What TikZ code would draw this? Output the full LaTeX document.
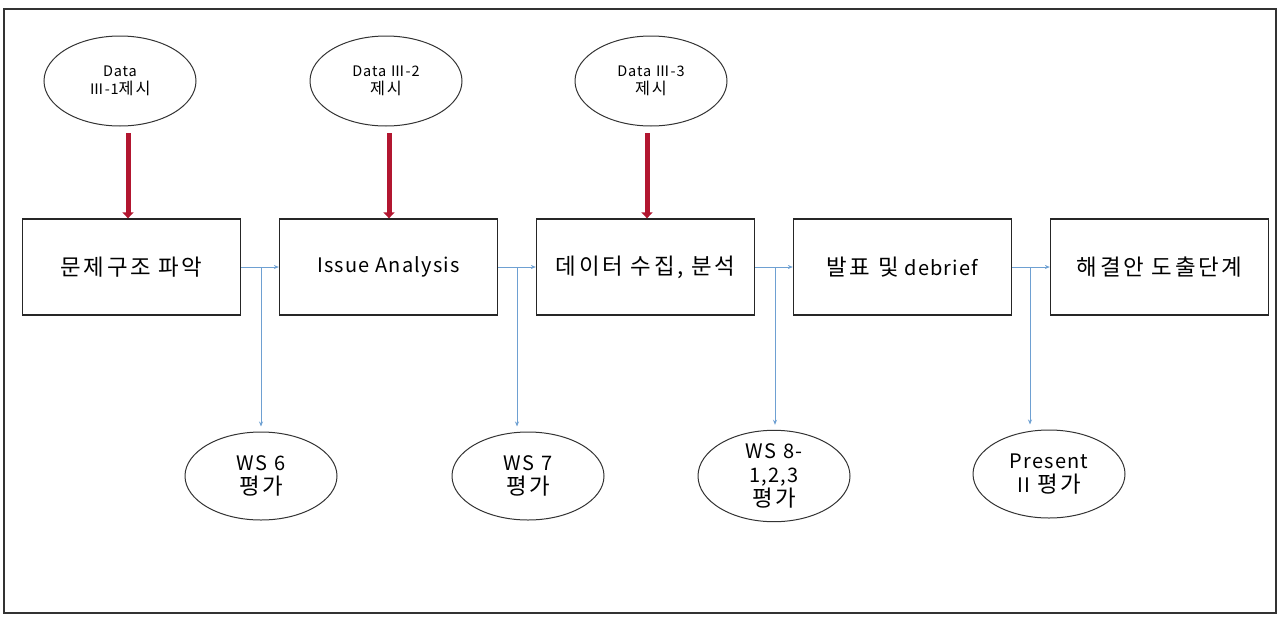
\documentclass[tikz,border=0pt]{standalone}
\usepackage{fontspec}
\setmainfont[LetterSpace=6]{Noto Sans CJK KR}
\newfontfamily\kr[Scale=1.12,LetterSpace=12]{Noto Sans CJK KR}
\usetikzlibrary{positioning,shapes.geometric,arrows.meta}
\definecolor{datared}{RGB}{178,22,48}
\definecolor{wsblue}{RGB}{110,160,210}
\newcommand\widesp{\spaceskip=0.35em\relax}

\begin{document}
\begin{tikzpicture}[x=1pt, y=-1pt,
  stage/.style={draw=black!85, line width=1.3pt, minimum width=218pt, minimum height=96pt,
    inner sep=0pt, font=\fontsize{20}{24}\selectfont},
  datain/.style={ellipse, draw=black!80, line width=1pt, minimum width=152pt, minimum height=90pt,
    inner sep=0pt, align=center, font=\fontsize{14.5}{18}\selectfont},
  evalout/.style={ellipse, draw=black!80, line width=1pt, minimum width=152pt, minimum height=88pt,
    inner sep=0pt, align=center, font=\fontsize{20}{24}\selectfont\widesp},
  feed/.style={-{Triangle[width=11pt,length=6pt]}, datared, line width=5pt},
  flow/.style={-{Stealth[length=5pt,width=4pt]}, wsblue, line width=0.9pt}]
\useasboundingbox (0,0) rectangle (1279,616);
\draw [line width=1.2pt, black!80] (4,9) rectangle (1276,613);

% stages
\node (b1) [stage] at (131.5,267) {{\kr 문제구조 파악}};
\node (b2) [stage, right=37.7pt of b1] {Issue Analysis};
\node (b3) [stage, right=37.7pt of b2] {{\kr 데이터 수집, 분석}};
\node (b4) [stage, right=37.7pt of b3] {{\kr 발표 및} debrief};
\node (b5) [stage, right=37.7pt of b4] {{\kr 해결안 도출단계}};

% data given
\node (d1) [datain] at (120,81) {Data\\Ⅲ-1{\kr 제시}};
\node (d2) [datain] at (386,81) {Data Ⅲ-2\\{\kr 제시}};
\node (d3) [datain] at (651,81) {Data Ⅲ-3\\{\kr 제시}};

% evaluation
\node (w1) [evalout] at (261,476) {WS 6\\{\kr 평가}};
\node (w2) [evalout] at (528,476) {WS 7\\{\kr 평가}};
\node (w3) [evalout] at (774,476) {WS 8-\\1,2,3\\{\kr 평가}};
\node (w4) [evalout] at (1049,474) {Present\\II {\kr 평가}};

\coordinate (f1) at (128,133);
\coordinate (f2) at (389,133);
\coordinate (f3) at (647,133);
\draw [feed] (f1) -- (f1 |- b1.north);
\draw [feed] (f2) -- (f2 |- b2.north);
\draw [feed] (f3) -- (f3 |- b3.north);

\draw [flow] (b1.east) -- (b2.west);
\draw [flow] (b2.east) -- (b3.west);
\draw [flow] (b3.east) -- (b4.west);
\draw [flow] (b4.east) -- (b5.west);

\coordinate (j1) at (261,267);
\coordinate (j2) at (517,267);
\coordinate (j3) at (775,267);
\coordinate (j4) at (1030,267);
\draw [flow, shorten >=5pt] (j1) -- (j1 |- w1.north);
\draw [flow, shorten >=5pt] (j2) -- (j2 |- w2.north);
\draw [flow, shorten >=5pt] (j3) -- (j3 |- w3.north);
\draw [flow, shorten >=5pt] (j4) -- (j4 |- w4.north);
\end{tikzpicture}
\end{document}
